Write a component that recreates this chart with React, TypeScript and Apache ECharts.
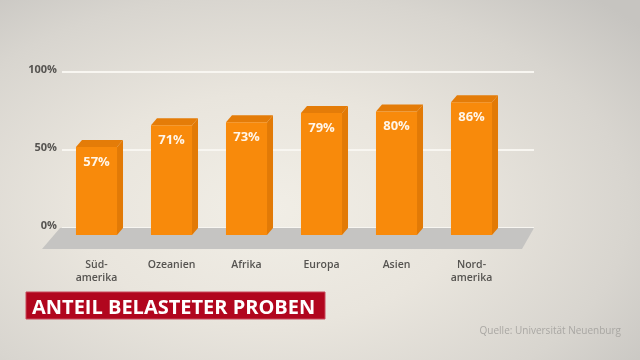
import React, { useEffect, useRef } from "react";
import * as echarts from "echarts";

const categories = ["Süd-\namerika", "Ozeanien", "Afrika", "Europa", "Asien", "Nord-\namerika"];
const shares = [57, 71, 73, 79, 80, 86];
const yTicks = [0, 50, 100];
const title = "ANTEIL BELASTETER PROBEN";
const source = "Quelle: Universität Neuenburg";

export default function App() {
  const ref = useRef<HTMLDivElement>(null);
  useEffect(() => {
    if (!ref.current) return;
    const chart = echarts.init(ref.current, null, { renderer: "svg" });
    const dx = 6;
    const dy = 7;
    const option: any = {
      animation: false,
      backgroundColor: "transparent",
      grid: [
        { left: 62, right: 106, top: 72, height: 156 },
        { left: 59, width: 450, top: 80.5, height: 154.5 },
      ],
      xAxis: [
        { type: "value", gridIndex: 0, show: false, min: 0, max: 1 },
        {
          type: "category",
          gridIndex: 1,
          data: categories,
          axisLine: { show: false },
          axisTick: { show: false },
          axisLabel: {
            margin: 22,
            color: "#555350",
            fontFamily: "Open Sans",
            fontWeight: 600,
            fontSize: 10.5,
            lineHeight: 13.5,
            interval: 0,
          },
        },
      ],
      yAxis: [
        {
          type: "value",
          gridIndex: 0,
          min: yTicks[0],
          max: yTicks[yTicks.length - 1],
          interval: 50,
          axisLine: { show: false },
          axisTick: { show: false },
          axisLabel: {
            formatter: "{value}%",
            margin: 5,
            color: "#555350",
            fontFamily: "Open Sans",
            fontWeight: "bold",
            fontSize: 11,
            verticalAlign: "bottom",
            lineHeight: 8,
          },
          splitLine: { lineStyle: { color: "#F8F6F1", width: 2 } },
        },
        { type: "value", gridIndex: 1, min: 0, max: 100, show: false },
      ],
      graphic: [
        {
          type: "polygon",
          z: 1,
          shape: { points: [[60, 228], [534, 228], [522, 249], [42, 249]] },
          style: { fill: "#C5C4C2" },
        },
        {
          type: "rect",
          z: 1,
          shape: { x: 26, y: 292, width: 299, height: 27 },
          style: { fill: "#B1061E", stroke: "#C8495A", lineWidth: 1 },
        },
        {
          type: "text",
          z: 2,
          x: 32,
          y: 306,
          style: {
            text: title,
            fill: "#FFFFFF",
            font: "bold 20px 'Open Sans'",
            verticalAlign: "middle",
          },
        },
        {
          type: "text",
          z: 2,
          x: 621,
          y: 330,
          style: {
            text: source,
            fill: "#A9A7A3",
            font: "10px 'Open Sans'",
            align: "right",
            verticalAlign: "middle",
          },
        },
      ],
      series: [
        {
          type: "custom",
          xAxisIndex: 1,
          yAxisIndex: 1,
          z: 3,
          data: shares.map((v, i) => [i, v]),
          encode: { x: 0, y: 1 },
          renderItem: (params: any, api: any) => {
            const idx = api.value(0);
            const val = api.value(1);
            const top = api.coord([idx, val]);
            const base = api.coord([idx, 0]);
            const band = api.size([1, 0])[0];
            const w = band * 0.547;
            const xl = top[0] - w / 2;
            const xr = top[0] + w / 2;
            const yt = top[1];
            const yb = base[1];
            return {
              type: "group",
              children: [
                {
                  type: "polygon",
                  shape: { points: [[xr, yt], [xr + dx, yt - dy], [xr + dx, yb - dy], [xr, yb]] },
                  style: { fill: "#E27A06" },
                },
                {
                  type: "polygon",
                  shape: { points: [[xl, yt], [xl + dx, yt - dy], [xr + dx, yt - dy], [xr, yt]] },
                  style: { fill: "#E47C08" },
                },
                {
                  type: "rect",
                  shape: { x: xl, y: yt, width: w, height: yb - yt },
                  style: { fill: "#F88A0B" },
                },
                {
                  type: "text",
                  x: top[0],
                  y: yt + 14,
                  style: {
                    text: val + "%",
                    fill: "#FFF5E8",
                    font: "bold 13px 'Open Sans'",
                    align: "center",
                    verticalAlign: "middle",
                  },
                },
              ],
            };
          },
        },
      ],
    };
    chart.setOption(option);
    return () => chart.dispose();
  }, []);
  return (
    <div
      style={{
        position: "fixed",
        left: 0,
        top: 0,
        width: 640,
        height: 360,
        background:
          "radial-gradient(ellipse 75% 80% at 42% 58%, #F1EEE6 0%, #E9E5DD 40%, #D8D5CF 75%, #C6C4C0 100%)",
      }}
    >
      <div ref={ref} style={{ width: 640, height: 360 }} />
    </div>
  );
}
